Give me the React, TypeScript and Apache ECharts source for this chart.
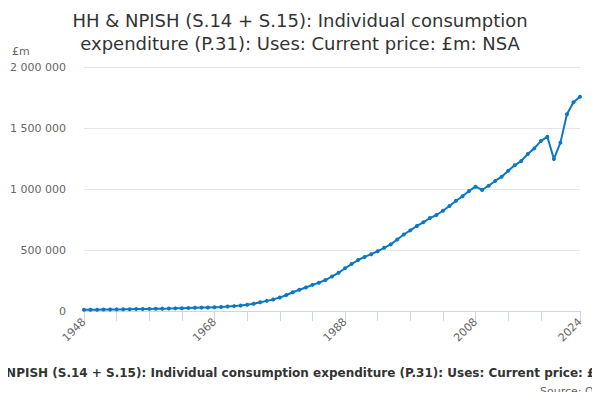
import React, { useEffect, useRef } from "react";
import * as echarts from "echarts";

const years: string[] = [];
for (let y = 1948; y <= 2024; y++) years.push(String(y));

const values: number[] = [
  10000, 10500, 11000, 11800, 12400, 13200, 13900, 14900, 15700, 16500,
  17400, 18300, 19300, 20400, 21600, 23000, 24500, 26100, 27700, 29200,
  31500, 33300, 36500, 40000, 45500, 52000, 60000, 72000, 83000, 95000,
  110000, 131000, 154000, 174000, 193000, 214000, 232000, 254000, 283000, 313000,
  350000, 385000, 418000, 443000, 466000, 490000, 518000, 546000, 586000, 627000,
  661000, 697000, 727000, 762000, 787000, 822000, 861000, 904000, 940000, 984000,
  1019000, 992000, 1027000, 1066000, 1101000, 1150000, 1194000, 1230000, 1287000, 1333000,
  1393000, 1429000, 1246000, 1380000, 1612000, 1711000, 1756000,
];

const titleText = "HH & NPISH (S.14 + S.15): Individual consumption\nexpenditure (P.31): Uses: Current price: £m: NSA";
const seriesName = "HH & NPISH (S.14 + S.15): Individual consumption expenditure (P.31): Uses: Current price: £m: NSA";
const sourceText = "Source: Office for National Statistics";
const unitText = "£m";

const FONT = "'DejaVu Sans', sans-serif";

export default function App() {
  const ref = useRef<HTMLDivElement>(null);
  useEffect(() => {
    if (!ref.current) return;
    const chart = echarts.init(ref.current, undefined, { renderer: "svg" });
    const last = years.length - 1;
    chart.setOption({
      animation: false,
      textStyle: { fontFamily: FONT },
      title: {
        text: titleText,
        left: "center",
        top: 4,
        textStyle: { fontSize: 18, fontWeight: "normal", color: "#333333", lineHeight: 23, fontFamily: FONT },
      },
      grid: { left: 84, right: 20, top: 67, bottom: 89, containLabel: false },
      xAxis: {
        type: "category",
        data: years,
        boundaryGap: false,
        axisLine: { show: true, lineStyle: { color: "#ccd6eb", width: 1 } },
        axisTick: {
          show: true,
          length: 10,
          lineStyle: { color: "#ccd6eb" },
          interval: (i: number) => (i % 5 === 0 && i <= 70) || i === last,
        },
        axisLabel: {
          interval: (i: number) => i % 20 === 0 || i === last,
          rotate: 45,
          color: "#666666",
          fontSize: 11,
          margin: 9,
          fontFamily: FONT,
        },
        splitLine: { show: false },
      },
      yAxis: {
        type: "value",
        min: 0,
        max: 2000000,
        interval: 500000,
        axisLine: { show: false },
        axisTick: { show: false },
        splitLine: { lineStyle: { color: "#e6e6e6" } },
        axisLabel: {
          color: "#666666",
          fontSize: 11,
          margin: 18,
          fontFamily: FONT,
          formatter: (v: number) => String(v).replace(/\B(?=(\d{3})+(?!\d))/g, " "),
        },
      },
      series: [
        {
          name: seriesName,
          type: "line",
          data: values,
          symbol: "circle",
          symbolSize: 4,
          showSymbol: true,
          lineStyle: { color: "#0b78c4", width: 2 },
          itemStyle: { color: "#0b78c4" },
        },
      ],
      graphic: [
        {
          type: "text",
          left: 12,
          top: 46,
          style: { text: unitText, fill: "#666666", fontSize: 11, fontFamily: FONT },
        },
        {
          type: "text",
          x: 306,
          y: 373,
          style: {
            text: seriesName,
            fill: "#333333",
            fontSize: 12,
            fontWeight: "bold",
            fontFamily: FONT,
            align: "center",
            verticalAlign: "middle",
          },
        },
        {
          type: "text",
          x: 540,
          y: 391,
          style: {
            text: sourceText,
            fill: "#666666",
            fontSize: 11,
            fontFamily: FONT,
            align: "left",
            verticalAlign: "middle",
          },
        },
      ],
    });
    return () => chart.dispose();
  }, []);
  return <div ref={ref} style={{ width: 600, height: 400, margin: -8 }} />;
}
